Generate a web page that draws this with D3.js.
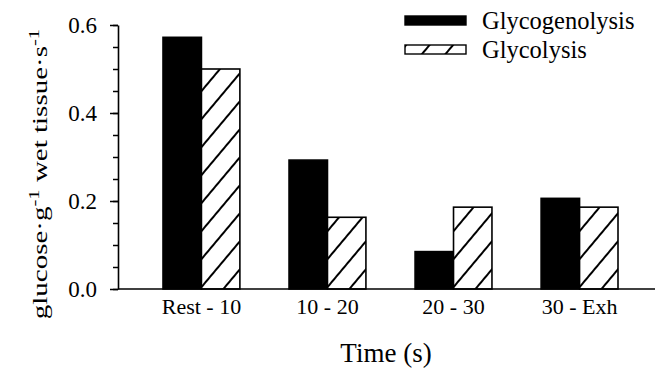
<!DOCTYPE html>
<html>
<head>
<meta charset="utf-8">
<script src="https://cdn.jsdelivr.net/npm/d3@7"></script>
<style>
  html, body { margin: 0; padding: 0; background: #fff; }
  svg text { font-family: "Liberation Serif", "Times New Roman", serif; fill: #000; }
</style>
</head>
<body>
<svg id="chart" width="658" height="378"></svg>
<script>
// Glucose flux per time interval
const categories = ["Rest - 10", "10 - 20", "20 - 30", "30 - Exh"];
const glycogenolysis = [0.572, 0.293, 0.085, 0.206];
const glycolysis = [0.500, 0.163, 0.186, 0.186];
const seriesNames = ["Glycogenolysis", "Glycolysis"];
const majorTicks = [0.0, 0.2, 0.4, 0.6];
const minorTicks = d3.range(0, 0.6001, 0.05);

const svg = d3.select("#chart");

const y = d3.scaleLinear().domain([0, 0.6]).range([289, 25]);
const x = d3.scaleBand().domain(categories).range([163, 618]).paddingInner(0.39).paddingOuter(0);
const xs = d3.scaleBand().domain(seriesNames).range([0, x.bandwidth()]).padding(0);

// diagonal hatch for the glycolysis bars
const defs = svg.append("defs");
const pat = defs.append("pattern")
  .attr("id", "hatch")
  .attr("patternUnits", "userSpaceOnUse")
  .attr("width", 20)
  .attr("height", 18)
  .attr("patternTransform", "rotate(-50)");
pat.append("rect").attr("width", 20).attr("height", 18).attr("fill", "#fff");
pat.append("line")
  .attr("x1", -1).attr("x2", 21)
  .attr("y1", 16).attr("y2", 16)
  .attr("stroke", "#000").attr("stroke-width", 2);

// bars
const rows = categories.map((c, i) => ({ cat: c, vals: [glycogenolysis[i], glycolysis[i]] }));
const groups = svg.append("g").selectAll("g")
  .data(rows).join("g")
  .attr("transform", d => `translate(${x(d.cat)},0)`);

groups.selectAll("rect")
  .data(d => d.vals.map((v, k) => ({ name: seriesNames[k], v })))
  .join("rect")
  .attr("x", d => xs(d.name))
  .attr("y", d => y(d.v))
  .attr("width", xs.bandwidth())
  .attr("height", d => y(0) - y(d.v))
  .attr("fill", d => d.name === "Glycogenolysis" ? "#000" : "url(#hatch)")
  .attr("stroke", "#000")
  .attr("stroke-width", 1.6);

// y axis: minor then major ticks
const minorAxis = d3.axisLeft(y).tickValues(minorTicks).tickSize(5).tickSizeOuter(0).tickFormat("");
const gMinor = svg.append("g").attr("transform", "translate(118,0)").call(minorAxis);
gMinor.select(".domain").remove();
gMinor.selectAll("line").attr("stroke", "#000").attr("stroke-width", 1.5);

const majorAxis = d3.axisLeft(y).tickValues(majorTicks).tickSize(8).tickSizeOuter(0)
  .tickPadding(13).tickFormat(d3.format(".1f"));
const gMajor = svg.append("g").attr("transform", "translate(118,0)").call(majorAxis);
gMajor.select(".domain").attr("stroke", "#000").attr("stroke-width", 1.6);
gMajor.selectAll("line").attr("stroke", "#000").attr("stroke-width", 1.5);
gMajor.selectAll("text")
  .style("font-family", "Liberation Serif, serif")
  .style("font-size", "23px")
  .attr("fill", "#000");

// x axis baseline
svg.append("line")
  .attr("x1", 118).attr("x2", 655)
  .attr("y1", y(0)).attr("y2", y(0))
  .attr("stroke", "#000").attr("stroke-width", 1.6);

// category labels
svg.append("g").selectAll("text")
  .data(categories).join("text")
  .attr("x", d => x(d) + x.bandwidth() / 2)
  .attr("y", 314)
  .attr("text-anchor", "middle")
  .style("font-size", "22px")
  .text(d => d);

// axis titles
svg.append("text")
  .attr("x", 386).attr("y", 362)
  .attr("text-anchor", "middle")
  .style("font-size", "27px")
  .text("Time (s)");

// y title is drawn stretched along its reading direction
const yt = svg.append("text")
  .attr("transform", "translate(47,174) rotate(-90) scale(1.38,1)")
  .attr("text-anchor", "middle")
  .style("font-size", "21px");
yt.append("tspan").text("glucose·g");
yt.append("tspan").attr("dy", -8).style("font-size", "15px").text("-1");
yt.append("tspan").attr("dy", 8).text(" wet tissue·s");
yt.append("tspan").attr("dy", -8).style("font-size", "15px").text("-1");

// legend
const legend = svg.append("g");
const legendRows = seriesNames.map((n, i) => ({ n, i }));
legend.selectAll("rect")
  .data(legendRows).join("rect")
  .attr("x", 405).attr("y", d => 16 + d.i * 29)
  .attr("width", 61).attr("height", 9)
  .attr("fill", d => d.i === 0 ? "#000" : "url(#hatch)")
  .attr("stroke", "#000").attr("stroke-width", 1.4);
legend.selectAll("text")
  .data(legendRows).join("text")
  .attr("x", 482).attr("y", d => 29 + d.i * 29)
  .style("font-size", "24.5px")
  .text(d => d.n);
</script>
</body>
</html>
